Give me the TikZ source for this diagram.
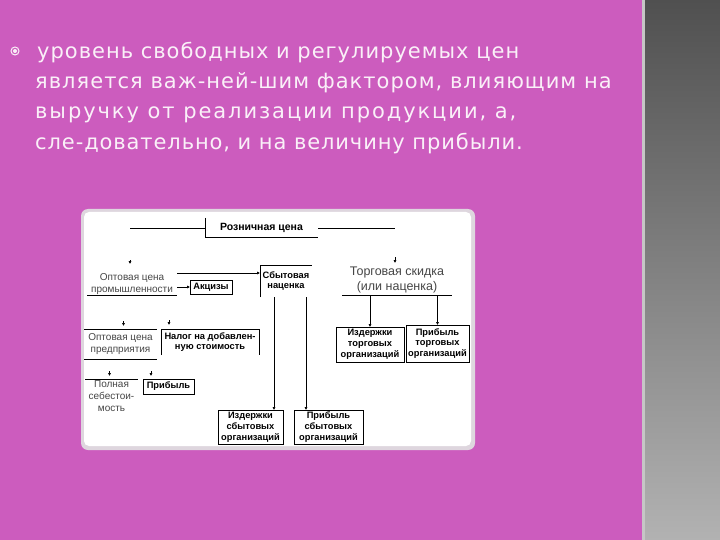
\documentclass[tikz,border=0pt]{standalone}
\usepackage{fontspec}
\setmainfont{DejaVu Sans}
\newfontfamily\headfontA[LetterSpace=4.7]{DejaVu Sans}
\newfontfamily\headfontB[LetterSpace=4.9]{DejaVu Sans}
\newfontfamily\headfontC[LetterSpace=9.2]{DejaVu Sans}
\newfontfamily\headfontD[LetterSpace=4.3]{DejaVu Sans}
\newfontfamily\dgf{Liberation Sans}
\usetikzlibrary{arrows.meta,calc}
\definecolor{bgpink}{RGB}{204,92,190}
\definecolor{bartop}{RGB}{80,80,80}
\definecolor{barbot}{RGB}{178,178,178}
\definecolor{panelrim}{RGB}{222,214,222}
\definecolor{headtxt}{RGB}{250,240,248}
\definecolor{softtxt}{RGB}{70,70,70}
\begin{document}
\begin{tikzpicture}[x=1pt,y=-1pt,
  head/.style={anchor=base west, inner sep=0pt, text=headtxt},
  frame/.style={inner sep=0pt, outer sep=0pt, align=center, font=\dgf\bfseries\fontsize{9.3}{10.8}\selectfont},
  fullbox/.style={frame, draw=black, line width=0.8pt},
  plain/.style={inner sep=0pt, outer sep=0pt, align=center, text=softtxt, font=\dgf\fontsize{10}{12}\selectfont},
  ln/.style={draw=black, line width=0.8pt},
  arr/.style={ln, -{Latex[length=3pt,width=3.2pt]}}
]
\useasboundingbox (0,0) rectangle (720,540);
% background
\fill[bgpink] (0,0) rectangle (643,540);
\shade[top color=bartop, bottom color=barbot] (643,0) rectangle (720,540);
\fill[gray!45] (642,0) rectangle (645,540);
% bullet
\draw[headtxt, line width=1pt] (15,51) circle[radius=4pt];
\fill[headtxt] (15,51) circle[radius=2pt];
% heading
\node[head, font=\headfontA\fontsize{21}{25}\selectfont] (l1) at (37,59) {уровень свободных и регулируемых цен};
\node[head, font=\headfontB\fontsize{21}{25}\selectfont] (l2) at (35,89) {является важ-ней-шим фактором, влияющим на};
\node[head, font=\headfontC\fontsize{21}{25}\selectfont] (l3) at (35,119) {выручку от реализации продукции, а,};
\node[head, font=\headfontD\fontsize{21}{25}\selectfont] (l4) at (35,150) {сле-довательно, и на величину прибыли.};
% panel
\fill[panelrim, rounded corners=7pt] (81,209) rectangle (475,450);
\fill[white, rounded corners=5pt] (84,212) rectangle (471,446);

% nodes
\node[frame, minimum width=113pt, minimum height=19pt, font=\dgf\bfseries\fontsize{10.5}{12}\selectfont] (rozn) at (261.5,227.5) {Розничная цена};
\node[plain, minimum width=90pt, minimum height=22pt] (opt1) at (132,284) {Оптовая цена\\промышленности};
\node[fullbox, minimum width=42pt, minimum height=14pt] (akc) at (211,287) {Акцизы};
\node[frame, minimum width=52pt, minimum height=32pt] (sbyt) at (286,281) {Сбытовая\\наценка};
\node[plain, minimum width=110pt, minimum height=30pt, font=\dgf\fontsize{12.5}{15}\selectfont] (torg) at (397,280) {Торговая скидка\\(или наценка)};
\node[fullbox, minimum width=68pt, minimum height=35pt] (izdT) at (370,344.5) {Издержки\\торговых\\организаций};
\node[fullbox, minimum width=63pt, minimum height=37pt] (pribT) at (437.5,343.5) {Прибыль\\торговых\\организаций};
\node[plain, minimum width=73pt, minimum height=30pt] (opt2) at (120.5,344) {Оптовая цена\\предприятия};
\node[frame, minimum width=98pt, minimum height=26pt] (nds) at (210,342) {Налог на добавлен-\\ную стоимость};
\node[plain, minimum width=53pt, minimum height=35pt] (poln) at (111.5,396.5) {Полная\\себестои-\\мость};
\node[fullbox, minimum width=51pt, minimum height=15pt] (prib) at (168.5,386.5) {Прибыль};
\node[fullbox, minimum width=65pt, minimum height=34pt] (izdS) at (250.5,427) {Издержки\\сбытовых\\организаций};
\node[fullbox, minimum width=69pt, minimum height=34pt] (pribS) at (328.5,427) {Прибыль\\сбытовых\\организаций};
\coordinate (tl) at (130,228);
\coordinate (tr) at (395,228);

% partial frames and lines
\draw[ln] (rozn.north west) |- (rozn.south east);
\draw[ln] (tl) -- (rozn.west |- tl);
\draw[ln] (rozn.east |- tr) -- (tr);
\draw[ln] (opt1.south west) -- (opt1.south east);
\draw[ln] (sbyt.south west) |- (sbyt.north east);
\draw[ln] (torg.south west) -- (torg.south east);
\draw[ln] (opt2.north west) -- (opt2.north east);
\draw[ln] (opt2.south west) -- (opt2.south east);
\draw[ln] (nds.south west) |- (nds.north east) -- (nds.south east);
\draw[ln] (poln.north west) -- (poln.north east);

% connectors
\draw[arr] (opt1.north east) -- (opt1.north east -| sbyt.west);
\draw[arr] (opt1.east |- akc.west) -- (akc.west);
\draw[arr] ([xshift=-12pt]sbyt.south) -- ([xshift=-12pt]sbyt.south |- izdS.north);
\draw[arr] ([xshift=20pt]sbyt.south) -- ([xshift=20pt]sbyt.south |- pribS.north);
\draw[arr] (izdT.north |- torg.south) -- (izdT.north);
\draw[arr] (pribT.north |- torg.south) -- (pribT.north);

% arrow stubs
\draw[arr] ($(opt1.north)+(-2,-13)$) -- ($(opt1.north)+(-2,-9)$);
\draw[arr] ($(torg.north)+(-2,-8)$) -- ($(torg.north)+(-2,-2)$);
\draw[arr] ($(opt2.north)+(3,-8)$) -- ($(opt2.north)+(3,-3)$);
\draw[arr] ($(nds.north west)+(8,-9)$) -- ($(nds.north west)+(8,-4)$);
\draw[arr] ($(poln.north)+(-2,-8)$) -- ($(poln.north)+(-2,-3)$);
\draw[arr] ($(prib.north west)+(8,-8)$) -- ($(prib.north west)+(8,-3)$);
\end{tikzpicture}
\end{document}
